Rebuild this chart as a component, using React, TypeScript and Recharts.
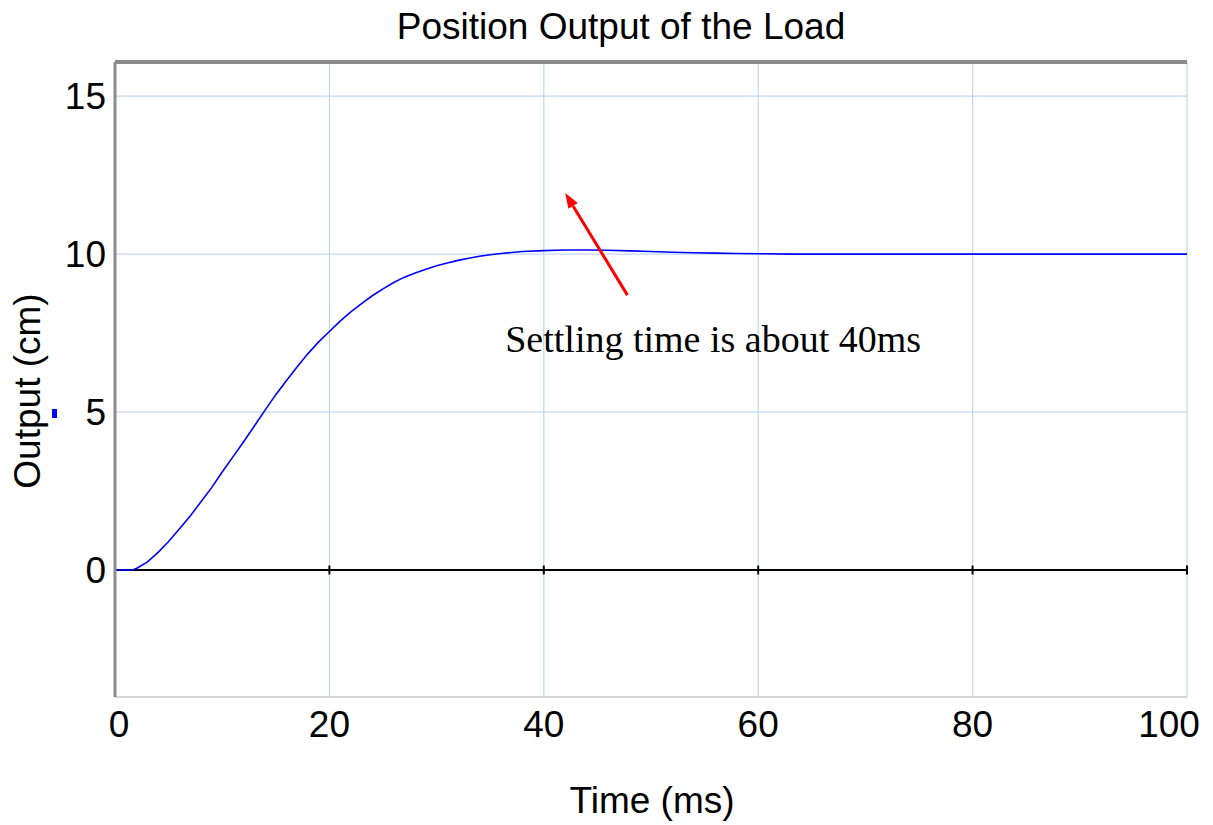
import React from 'react';
import {
  LineChart,
  Line,
  XAxis,
  YAxis,
  CartesianGrid,
  ReferenceLine,
  ReferenceDot,
  Customized,
} from 'recharts';

// time in ms, output in cm
const time = [
  0, 1, 1.6, 2, 3, 4, 5, 6, 7, 8, 9, 10, 11, 12, 13, 14, 15, 16, 17, 18, 19, 20,
  21, 22, 23, 24, 25, 26, 27, 28, 29, 30, 31, 32, 33, 34, 35, 36, 37, 38, 40, 42,
  44, 46, 48, 50, 52, 54, 56, 58, 60, 63, 70, 80, 90, 100,
];
const output = [
  0, 0, 0, 0.05, 0.25, 0.55, 0.9, 1.3, 1.7, 2.15, 2.6, 3.1, 3.58, 4.06, 4.56, 5.06,
  5.55, 6.0, 6.43, 6.85, 7.22, 7.55, 7.88, 8.17, 8.43, 8.68, 8.9, 9.1, 9.27, 9.4,
  9.52, 9.63, 9.72, 9.8, 9.87, 9.93, 9.98, 10.02, 10.05, 10.08, 10.11, 10.13, 10.13,
  10.12, 10.1, 10.08, 10.06, 10.04, 10.03, 10.02, 10.01, 10.0, 10.0, 10.0, 10.0, 10.0,
];

const xTicks = [0, 20, 40, 60, 80, 100];
const yTicks = [0, 5, 10, 15];

const title = 'Position Output of the Load';
const xLabel = 'Time (ms)';
const yLabel = 'Output (cm)';
const note = 'Settling time is about 40ms';
const notePos = { t: 36.4, y: 6.9 };
const arrowTail = { t: 47.8, y: 8.7 };
const arrowHead = { t: 42.0, y: 11.93 };

const data = time.map((t, i) => ({ t, y: output[i] }));

const FONT = '"Liberation Sans", Arial, sans-serif';

function XTick({ x, y, payload }: any) {
  const shift = payload.value === 100 ? -18 : payload.value === 0 ? 4 : 0;
  return (
    <text x={x + shift} y={y + 40} textAnchor="middle" fontSize={37} fontFamily={FONT} fill="#000">
      {payload.value}
    </text>
  );
}

function YTick({ x, y, payload }: any) {
  return (
    <text x={x - 9} y={y + 13} textAnchor="end" fontSize={37} fontFamily={FONT} fill="#000">
      {payload.value}
    </text>
  );
}

function Arrow({ x1, y1, x2, y2 }: any) {
  const a = Math.atan2(y2 - y1, x2 - x1);
  const len = 15;
  const w = 5.5;
  const bx = x2 - len * Math.cos(a);
  const by = y2 - len * Math.sin(a);
  const pts = [
    `${x2},${y2}`,
    `${bx + w * Math.sin(a)},${by - w * Math.cos(a)}`,
    `${bx - w * Math.sin(a)},${by + w * Math.cos(a)}`,
  ].join(' ');
  return (
    <g>
      <line x1={x1} y1={y1} x2={bx} y2={by} stroke="#ff0000" strokeWidth={3} />
      <polygon points={pts} fill="#ff0000" />
    </g>
  );
}

function NoteLabel({ viewBox }: any) {
  const cx = viewBox ? viewBox.x + (viewBox.width || 0) / 2 : 0;
  const cy = viewBox ? viewBox.y + (viewBox.height || 0) / 2 : 0;
  return (
    <text x={cx} y={cy} textAnchor="start" fontSize={38} fontFamily='"Liberation Serif", "Times New Roman", serif' fill="#000">
      {note}
    </text>
  );
}

function Overlay() {
  return (
    <g>
      <text x={621} y={39} textAnchor="middle" fontSize={37} fontFamily={FONT} fill="#000">
        {title}
      </text>
      <text x={652} y={813} textAnchor="middle" fontSize={37} fontFamily={FONT} fill="#000">
        {xLabel}
      </text>
      <text
        x={40}
        y={391}
        textAnchor="middle"
        fontSize={37}
        fontFamily={FONT}
        fill="#000"
        transform="rotate(-90 40 391)"
      >
        {yLabel}
      </text>
      <rect x={52} y={409} width={5} height={9} fill="#0000ff" />
    </g>
  );
}

export default function App() {
  return (
    <div style={{ position: 'absolute', left: 0, top: 0, background: '#fff' }}>
      <LineChart width={1213} height={825} data={data} margin={{ top: 62, right: 26, bottom: 0, left: 0 }}>
        <CartesianGrid stroke="#b3cfee" strokeWidth={1} />
        <XAxis
          dataKey="t"
          type="number"
          domain={[0, 100]}
          ticks={xTicks}
          height={128}
          tickLine={false}
          tickSize={0}
          tickMargin={0}
          axisLine={{ stroke: '#d6cec6', strokeWidth: 1.5 }}
          tick={<XTick />}
          interval={0}
        />
        <YAxis
          type="number"
          domain={[-4.02, 16.08]}
          ticks={yTicks}
          width={115}
          tickLine={false}
          tickSize={0}
          tickMargin={0}
          axisLine={{ stroke: '#8c8c8c', strokeWidth: 3 }}
          tick={<YTick />}
          interval={0}
          allowDataOverflow
        />
        <ReferenceLine y={16.08} stroke="#8a8a8a" strokeWidth={4} />
        <ReferenceLine y={0} stroke="#000" strokeWidth={2} />
        {xTicks.map((v) => (
          <ReferenceLine
            key={`tk-${v}`}
            segment={[
              { x: v, y: -0.14 },
              { x: v, y: 0.14 },
            ]}
            stroke="#000"
            strokeWidth={2}
          />
        ))}
        <Line
          type="linear"
          dataKey="y"
          stroke="#0000ff"
          strokeWidth={1.6}
          dot={false}
          activeDot={false}
          isAnimationActive={false}
        />
        <ReferenceLine
          segment={[
            { x: arrowTail.t, y: arrowTail.y },
            { x: arrowHead.t, y: arrowHead.y },
          ]}
          shape={<Arrow />}
        />
        <ReferenceDot x={notePos.t} y={notePos.y} r={0} fill="none" stroke="none" label={<NoteLabel />} />
        <Customized component={Overlay} />
      </LineChart>
    </div>
  );
}
